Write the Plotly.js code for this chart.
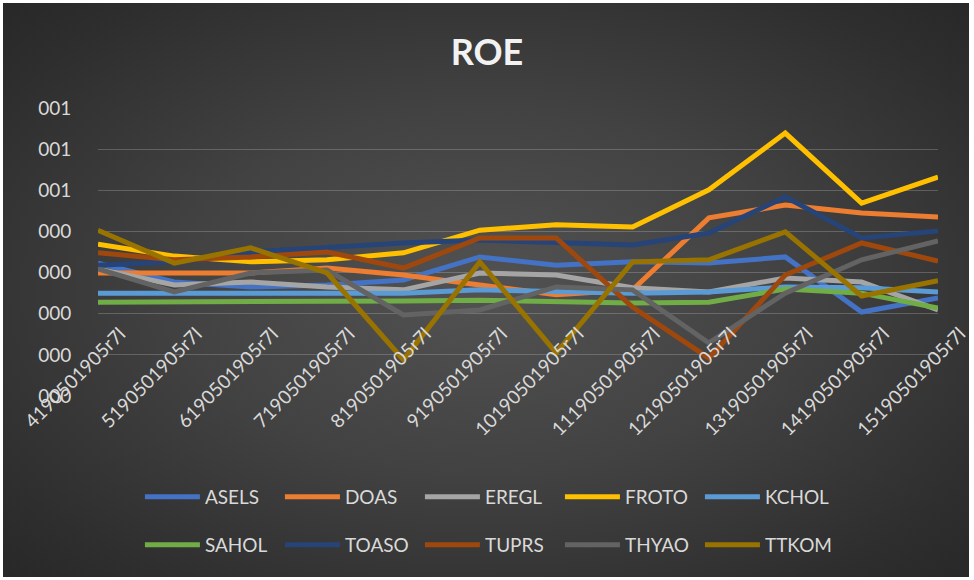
<!DOCTYPE html>
<html>
<head>
<meta charset="utf-8">
<script src="https://cdn.plot.ly/plotly-3.0.1.min.js"></script>
<style>
  body { margin: 0; background: #ffffff; }
  #wrap { position: relative; width: 974px; height: 580px; }
  #bg {
    position: absolute; left: 3px; top: 3px; right: 5px; bottom: 3px;
    background: radial-gradient(ellipse at 50% 50%, #525252 0%, #424242 45%, #2e2e2e 85%, #282828 100%);
  }
  #grafico { position: absolute; left: 0; top: 0; width: 974px; height: 580px; }
</style>
</head>
<body>
<div id="wrap">
  <div id="bg"></div>
  <div id="grafico"></div>
</div>
<script>
// categorias (eixo x)
const categorias = [
    '4190501905r7l', '5190501905r7l', '6190501905r7l', '7190501905r7l',
    '8190501905r7l', '9190501905r7l', '10190501905r7l', '11190501905r7l',
    '12190501905r7l', '13190501905r7l', '14190501905r7l', '15190501905r7l'
];

// valores
const asels = [0.323, 0.277, 0.265, 0.270, 0.282, 0.338, 0.318, 0.326, 0.323, 0.338, 0.204, 0.238];
const doas  = [0.299, 0.299, 0.299, 0.311, 0.294, 0.270, 0.246, 0.258, 0.433, 0.464, 0.445, 0.435];
const eregl = [0.309, 0.270, 0.277, 0.265, 0.258, 0.299, 0.294, 0.263, 0.253, 0.287, 0.277, 0.209];
const froto = [0.369, 0.340, 0.326, 0.331, 0.348, 0.403, 0.416, 0.411, 0.501, 0.639, 0.469, 0.532];
const kchol = [0.250, 0.250, 0.250, 0.250, 0.250, 0.258, 0.253, 0.250, 0.253, 0.265, 0.263, 0.253];
const sahol = [0.228, 0.228, 0.228, 0.228, 0.231, 0.233, 0.231, 0.226, 0.228, 0.260, 0.250, 0.214];
const toaso = [0.318, 0.326, 0.350, 0.362, 0.372, 0.379, 0.372, 0.367, 0.396, 0.484, 0.384, 0.401];
const tuprs = [0.348, 0.331, 0.338, 0.350, 0.311, 0.384, 0.384, 0.216, 0.092, 0.294, 0.372, 0.328];
const thyao = [0.309, 0.253, 0.299, 0.306, 0.197, 0.209, 0.265, 0.258, 0.129, 0.250, 0.331, 0.377];
const ttkom = [0.403, 0.323, 0.360, 0.299, 0.088, 0.326, 0.105, 0.326, 0.331, 0.399, 0.243, 0.280];

// rótulos do eixo y
const yTickVals = [0, 0.1, 0.2, 0.3, 0.4, 0.5, 0.6, 0.7];
const yTickText = ['000', '000', '000', '000', '000', '001', '001', '001'];

const series = [
    { name: 'ASELS', y: asels, color: '#4472C4', legend: 'legend' },
    { name: 'DOAS',  y: doas,  color: '#ED7D31', legend: 'legend' },
    { name: 'EREGL', y: eregl, color: '#A5A5A5', legend: 'legend' },
    { name: 'FROTO', y: froto, color: '#FFC000', legend: 'legend' },
    { name: 'KCHOL', y: kchol, color: '#5B9BD5', legend: 'legend' },
    { name: 'SAHOL', y: sahol, color: '#70AD47', legend: 'legend2' },
    { name: 'TOASO', y: toaso, color: '#264478', legend: 'legend2' },
    { name: 'TUPRS', y: tuprs, color: '#9E480E', legend: 'legend2' },
    { name: 'THYAO', y: thyao, color: '#636363', legend: 'legend2' },
    { name: 'TTKOM', y: ttkom, color: '#997300', legend: 'legend2' }
];

const data = series.map(s => ({
    x: categorias,
    y: s.y,
    name: s.name,
    type: 'scatter',
    mode: 'lines',
    legend: s.legend,
    line: { color: s.color, width: 5 }
}));

const fonte = { family: 'Lato, "Open Sans", sans-serif', size: 19, color: '#d9d9d9' };

const legendaBase = {
    orientation: 'h',
    xref: 'container', yref: 'container',
    x: 0.503, xanchor: 'center', yanchor: 'middle',
    font: { family: 'Lato, sans-serif', size: 19, color: '#d9d9d9' },
    bgcolor: 'rgba(0,0,0,0)',
    itemwidth: 55,
    entrywidth: 70,
    itemclick: false
};

const layout = {
    width: 974,
    height: 580,
    margin: { l: 98, r: 36, t: 108, b: 184 },
    paper_bgcolor: 'rgba(0,0,0,0)',
    plot_bgcolor: 'rgba(0,0,0,0)',
    title: {
        text: '<b>ROE</b>',
        font: { family: 'Lato, sans-serif', size: 36, color: '#f2f2f2' },
        x: 0.5, xanchor: 'center',
        yref: 'container', y: 0.91, yanchor: 'middle'
    },
    xaxis: {
        type: 'category',
        anchor: 'free',
        position: 0.27,
        showgrid: false,
        showline: false,
        zeroline: false,
        tickangle: -45,
        ticks: '',
        ticklabelshift: 22,
        tickfont: fonte
    },
    yaxis: {
        range: [0, 0.7],
        tickvals: yTickVals,
        ticktext: yTickText,
        showgrid: true,
        gridcolor: 'rgba(217,217,217,0.25)',
        gridwidth: 1,
        zeroline: false,
        showline: false,
        ticks: 'outside',
        ticklen: 22,
        tickcolor: 'rgba(0,0,0,0)',
        tickfont: fonte
    },
    legend: Object.assign({}, legendaBase, { y: 1 - 497 / 580 }),
    legend2: Object.assign({}, legendaBase, { y: 1 - 545 / 580 }),
    showlegend: true
};

Plotly.newPlot('grafico', data, layout, { displayModeBar: false, staticPlot: true });
</script>
</body>
</html>
